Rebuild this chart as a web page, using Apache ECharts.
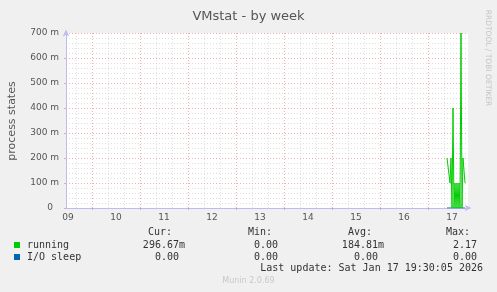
<!DOCTYPE html>
<html><head><meta charset="utf-8">
<script src="https://cdn.jsdelivr.net/npm/echarts@6/dist/echarts.min.js"></script>
<style>html,body{margin:0;padding:0;background:#f0f0f0}#c{width:497px;height:292px}</style>
</head><body><div id="c"></div>
<script>
// ---- data ----
const titleText = 'VMstat - by week';
const yAxisName = 'process states';
const watermark = 'RRDTOOL / TOBI OETIKER';
const footer = 'Munin 2.0.69';
const lastUpdate = 'Last update: Sat Jan 17 19:30:05 2026';
// time in hours since Jan 09 00:00
const hours = [201.5,202,202.5,203,203.5,204,204.5,205,205.5,206,206.5,207,207.5,208,208.5,209,209.5,210,210.5];
const running = [0.2,0.2,0.2,0.1,0.2,0,0.4,0,0.1,0,0.1,0,0.1,0,0.7,0,0.2,0.2,0.1];
const ioSleep = [0,0,0,0,0,0,0,0,0,0,0,0,0,0,0,0,0,0,0];
const dayLabels = ['09','10','11','12','13','14','15','16','17'];
const dayNoons = [12,36,60,84,108,132,156,180,204];
const midnights = [24,48,72,96,120,144,168,192];
const seriesNames = ['running','I/O sleep'];
const colHeaders = ['Cur:','Min:','Avg:','Max:'];
const curVals = ['296.67m','0.00 '];
const minVals = ['0.00 ','0.00 '];
const avgVals = ['184.81m','0.00 '];
const maxVals = ['2.17 ','0.00 '];

// ---- styles ----
const SANS = 'DejaVu Sans';
const MONO = 'DejaVu Sans Mono';
const RED = 'rgba(235,120,120,0.6)';
const GRAY = 'rgba(185,185,185,0.45)';
const AXIS = '#bcbcf0';
const COLORS = ['#00cc00','#0066b3'];

const minorX = [];
for (let h = 16; h <= 212; h += 8) if (h % 24 !== 0) minorX.push(h);

const vLines = minorX.map(v => ({xAxis: v, lineStyle: {color: GRAY, type: [1,2], width: 1}}))
  .concat(midnights.map(v => ({xAxis: v, lineStyle: {color: RED, type: [1,2], width: 1}})));

const graphic = [];
const txt = (x, y, text, o) => graphic.push(Object.assign({type:'text', x, y, silent:true,
  style: Object.assign({text, fill:'#333', font: '10px "' + MONO + '"', textAlign:'left', textVerticalAlign:'middle', align:'left', verticalAlign:'middle'}, o || {})}));
// y axis name
graphic.push({type:'text', x:12, y:121, rotation: Math.PI/2, silent:true,
  style:{text:yAxisName, fill:'#555', font:'11px "' + SANS + '"', textAlign:'center', textVerticalAlign:'middle', align:'center', verticalAlign:'middle'}});
// watermark
graphic.push({type:'text', x:488, y:58, rotation: -Math.PI/2, silent:true,
  style:{text:watermark, fill:'#c4c4c4', font:'7.5px "' + SANS + '"', textAlign:'center', textVerticalAlign:'middle', align:'center', verticalAlign:'middle'}});
// legend table
const headerRight = [172, 272, 372, 470];
const colRight = [185, 284, 384, 483];
colHeaders.forEach((h, i) => txt(headerRight[i], 232.5, h, {textAlign:'right', align:'right'}));
const rowsY = [245, 257];
const cols = [curVals, minVals, avgVals, maxVals];
seriesNames.forEach((n, r) => {
  graphic.push({type:'rect', shape:{x:14, y:rowsY[r]-3, width:6, height:6}, style:{fill:COLORS[r]}, silent:true});
  txt(27, rowsY[r], n);
  cols.forEach((c, i) => txt(colRight[i], rowsY[r], c[r], {textAlign:'right', align:'right'}));
});
txt(483, 268.5, lastUpdate, {textAlign:'right', align:'right'});
txt(248.5, 281, footer, {textAlign:'center', align:'center', fill:'#c8c8c8', font:'8px "' + SANS + '"'});

const chart = echarts.init(document.getElementById('c'), null, {renderer:'canvas'});
chart.setOption({
  animation: false,
  backgroundColor: '#f0f0f0',
  title: {text: titleText, left: 'center', top: 5, textStyle: {fontFamily: SANS, fontSize: 13, fontWeight: 'normal', color: '#555'}},
  grid: {left: 66, right: 29, top: 33, bottom: 84, show: true, backgroundColor: '#ffffff', borderWidth: 0, containLabel: false},
  xAxis: {
    type: 'value', min: 11, max: 212,
    axisLine: {show: true, lineStyle: {color: AXIS, width: 1}, symbol: ['none','arrow'], symbolSize: [5,7], symbolOffset: [0,3.5]},
    axisTick: {show: true, customValues: midnights, length: 2, lineStyle: {color: RED}},
    axisLabel: {customValues: dayNoons, formatter: v => dayLabels[dayNoons.indexOf(v)] || '', margin: 5,
      fontFamily: SANS, fontSize: 9, color: '#555', showMinLabel: true, showMaxLabel: true},
    splitLine: {show: false}
  },
  yAxis: {
    type: 'value', min: 0, max: 0.7, interval: 0.1,
    axisLine: {show: true, lineStyle: {color: AXIS, width: 1}, symbol: ['none','arrow'], symbolSize: [5,7], symbolOffset: [0,3.5]},
    axisTick: {show: true, length: 2, lineStyle: {color: RED}},
    minorTick: {show: false, splitNumber: 5},
    axisLabel: {margin: 7, fontFamily: SANS, fontSize: 9, color: '#555',
      formatter: v => Math.abs(v) < 1e-9 ? '0{p|}' : Math.round(v * 1000) + ' m',
      rich: {p: {width: 6}}},
    splitLine: {show: true, lineStyle: {color: RED, type: [1,2], width: 1}},
    minorSplitLine: {show: true, lineStyle: {color: GRAY, type: [1,2], width: 1}}
  },
  series: [
    {name: seriesNames[1], type: 'line', data: hours.map((h, i) => [h, ioSleep[i]]), showSymbol: false,
      lineStyle: {width: 1, color: COLORS[1]}, itemStyle: {color: COLORS[1]}, z: 2,
      markLine: {silent: true, symbol: ['none','none'], label: {show: false}, z: 1, animation: false, data: vLines}},
    {name: seriesNames[0], type: 'line', data: hours.map((h, i) => [h, running[i]]), showSymbol: false,
      lineStyle: {width: 1, color: COLORS[0]}, itemStyle: {color: COLORS[0]}, z: 3}
  ],
  graphic: graphic
});
</script></body></html>
